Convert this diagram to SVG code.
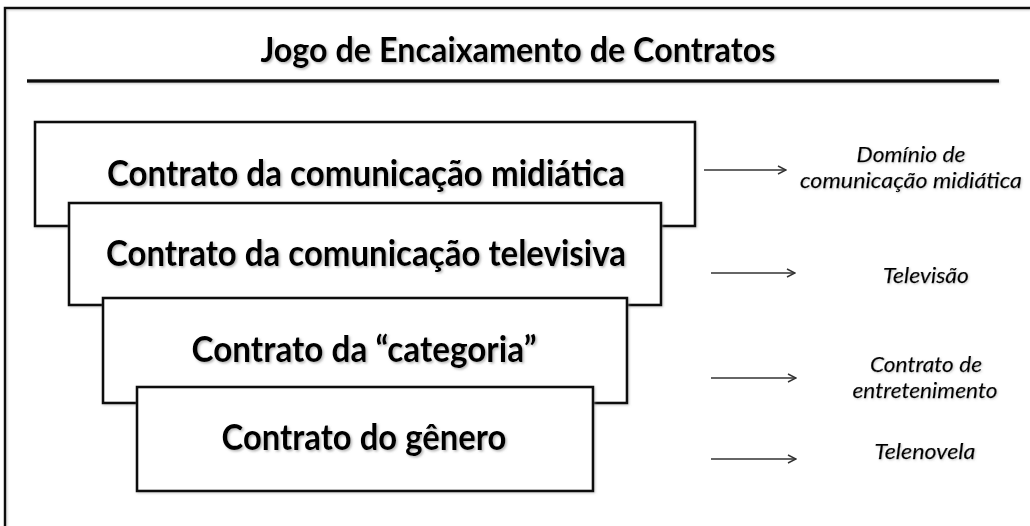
<svg xmlns="http://www.w3.org/2000/svg" width="1030" height="526" viewBox="0 0 1030 526">
  <style>
    .frame { fill: none; stroke: #111; stroke-width: 2.5; }
    .rule { stroke: #111; stroke-width: 3.5; }
    .box { fill: #fff; stroke: #111; stroke-width: 2.6; }
    .title { font-family: Lato, "Liberation Sans", sans-serif; font-weight: bold; font-size: 35px; fill: #000; text-anchor: middle; }
    .label { font-family: Lato, "Liberation Sans", sans-serif; font-weight: bold; font-size: 36px; fill: #000; text-anchor: middle; }
    .side { font-family: Lato, "Liberation Sans", sans-serif; font-style: italic; font-size: 21px; fill: #000; stroke: #000; stroke-width: 0.25; text-anchor: middle; }
    .arrow { stroke: #333; stroke-width: 1.4; fill: none; }
  </style>
  <defs>
    <filter id="shadow" x="-5%" y="-20%" width="110%" height="150%">
      <feDropShadow dx="1.5" dy="1.5" stdDeviation="1" flood-color="#777" flood-opacity="0.55"/>
    </filter>
    <filter id="lshadow" x="-5%" y="-20%" width="110%" height="150%">
      <feDropShadow dx="1" dy="1" stdDeviation="0.8" flood-color="#999" flood-opacity="0.5"/>
    </filter>
    <marker id="head" viewBox="0 0 10 10" refX="9" refY="5" markerWidth="10" markerHeight="10" markerUnits="userSpaceOnUse" orient="auto">
      <path d="M1,1 L9,5 L1,9" fill="none" stroke="#333" stroke-width="1.4"/>
    </marker>
  </defs>

  <rect width="1030" height="526" fill="#fff"/>

  <g id="frame" filter="url(#lshadow)">
    <path class="frame" d="M5,526 V8 H1030"/>
    <line class="rule" x1="27" y1="81" x2="999" y2="81"/>
  </g>

  <g id="title" filter="url(#shadow)">
    <text class="title" x="518" y="62" textLength="515" lengthAdjust="spacingAndGlyphs">Jogo de Encaixamento de Contratos</text>
  </g>

  <g id="node-midiatica">
    <rect class="box" x="35" y="122" width="660" height="104" filter="url(#lshadow)"/>
    <text class="label" x="366" y="186" textLength="518" lengthAdjust="spacingAndGlyphs" filter="url(#shadow)">Contrato da comunicação midiática</text>
  </g>

  <g id="node-televisiva">
    <rect class="box" x="69" y="203" width="592" height="102" filter="url(#lshadow)"/>
    <text class="label" x="366" y="266" textLength="520" lengthAdjust="spacingAndGlyphs" filter="url(#shadow)">Contrato da comunicação televisiva</text>
  </g>

  <g id="node-categoria">
    <rect class="box" x="103" y="298" width="524" height="105" filter="url(#lshadow)"/>
    <text class="label" x="364" y="362" textLength="345" lengthAdjust="spacingAndGlyphs" filter="url(#shadow)">Contrato da “categoria”</text>
  </g>

  <g id="node-genero">
    <rect class="box" x="137" y="387" width="456" height="104" filter="url(#lshadow)"/>
    <text class="label" x="364" y="450" textLength="285" lengthAdjust="spacingAndGlyphs" filter="url(#shadow)">Contrato do gênero</text>
  </g>

  <g id="connectors">
    <line class="arrow" x1="704" y1="170" x2="786" y2="170" marker-end="url(#head)"/>
    <line class="arrow" x1="711" y1="273" x2="795" y2="273" marker-end="url(#head)"/>
    <line class="arrow" x1="711" y1="378" x2="796" y2="378" marker-end="url(#head)"/>
    <line class="arrow" x1="711" y1="459" x2="796" y2="459" marker-end="url(#head)"/>
  </g>

  <g id="label-dominio" filter="url(#lshadow)">
    <text class="side" x="911" y="162" textLength="109" lengthAdjust="spacingAndGlyphs">Domínio de</text>
    <text class="side" x="911" y="188" textLength="222" lengthAdjust="spacingAndGlyphs">comunicação midiática</text>
  </g>
  <g id="label-televisao" filter="url(#lshadow)">
    <text class="side" x="926" y="283" textLength="86" lengthAdjust="spacingAndGlyphs">Televisão</text>
  </g>
  <g id="label-entretenimento" filter="url(#lshadow)">
    <text class="side" x="926" y="372" textLength="112" lengthAdjust="spacingAndGlyphs">Contrato de</text>
    <text class="side" x="925" y="398" textLength="145" lengthAdjust="spacingAndGlyphs">entretenimento</text>
  </g>
  <g id="label-telenovela" filter="url(#lshadow)">
    <text class="side" x="925" y="459" textLength="101" lengthAdjust="spacingAndGlyphs">Telenovela</text>
  </g>
</svg>
